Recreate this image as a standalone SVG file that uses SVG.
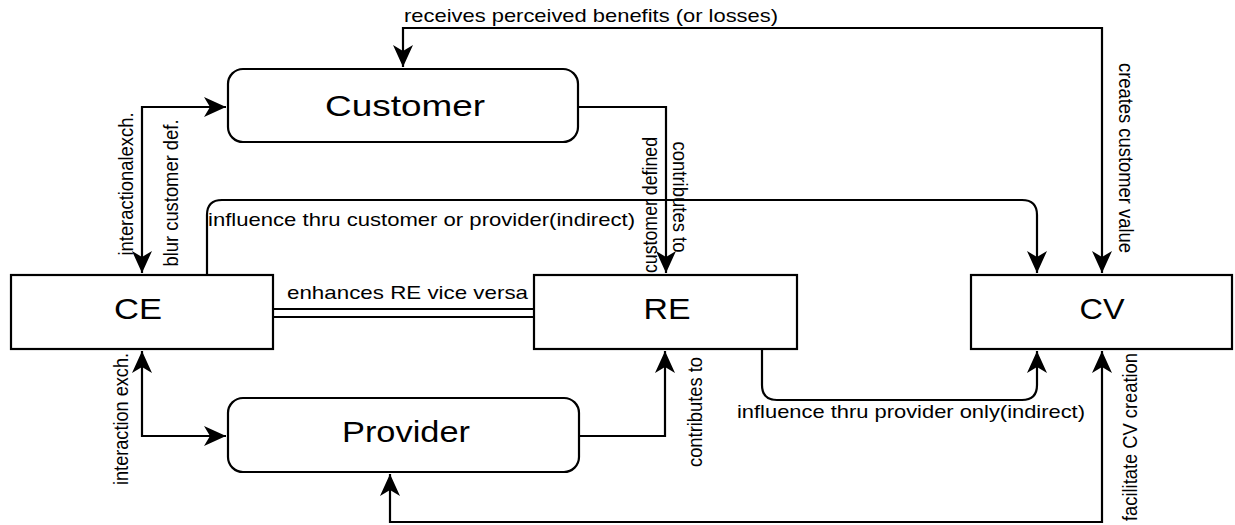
<svg xmlns="http://www.w3.org/2000/svg" width="1235" height="525" viewBox="0 0 1235 525">
<style>
.box{fill:#fff;stroke:#000;stroke-width:2.2}
.lbl{font-family:"Liberation Sans",Arial,sans-serif;font-size:29px;fill:#000;text-anchor:middle}
.t{font-family:"Liberation Sans",Arial,sans-serif;font-size:19px;fill:#000}
.tv{font-family:"Liberation Sans",Arial,sans-serif;font-size:20px;fill:#000;text-anchor:middle}
.c{fill:none;stroke:#000;stroke-width:2.2}
.d{fill:none;stroke:#000;stroke-width:1.8}
</style>
<defs>
<marker id="ah" markerUnits="userSpaceOnUse" markerWidth="24" markerHeight="20" refX="22" refY="10" orient="auto-start-reverse" viewBox="0 0 24 20">
<path d="M0,0 L22,10 L0,20 L6,10 Z" fill="#000"/>
</marker>
</defs>
<rect width="1235" height="525" fill="#fff"/>
<g id="connectors">
<path class="c" d="M142,273 V107 H226" marker-start="url(#ah)" marker-end="url(#ah)"/>
<path class="c" d="M142,351 V436 H226" marker-start="url(#ah)" marker-end="url(#ah)"/>
<path class="c" d="M579,107 H666 V273" marker-end="url(#ah)"/>
<path class="c" d="M579,436 H665 V351" marker-end="url(#ah)"/>
<path class="c" d="M207,275 V215 Q207,200 222,200 H1022 Q1037,200 1037,215 V273" marker-end="url(#ah)"/>
<path class="c" d="M403,67 V28 H1102 V273" marker-start="url(#ah)" marker-end="url(#ah)"/>
<path class="c" d="M762,349 V385 Q762,400 777,400 H1022 Q1037,400 1037,385 V351" marker-end="url(#ah)"/>
<path class="c" d="M390,474 V522 H1102 V351" marker-start="url(#ah)" marker-end="url(#ah)"/>
<line class="d" x1="273" y1="309" x2="534" y2="309"/>
<line class="d" x1="273" y1="317" x2="534" y2="317"/>
<text class="t" x="404" y="22" textLength="374" lengthAdjust="spacingAndGlyphs">receives perceived benefits (or losses)</text>
<text class="t" x="208" y="226" textLength="427" lengthAdjust="spacingAndGlyphs">influence thru customer or provider(indirect)</text>
<text class="t" x="287" y="299" textLength="241" lengthAdjust="spacingAndGlyphs">enhances RE vice versa</text>
<text class="t" x="737" y="418" textLength="348" lengthAdjust="spacingAndGlyphs">influence thru provider only(indirect)</text>
<text class="tv" transform="translate(133,184) rotate(-90)" textLength="143" lengthAdjust="spacingAndGlyphs">interactionalexch.</text>
<text class="tv" transform="translate(178,193) rotate(-90)" textLength="147" lengthAdjust="spacingAndGlyphs">blur customer def.</text>
<text class="tv" transform="translate(128,419) rotate(-90)" textLength="132" lengthAdjust="spacingAndGlyphs">interaction exch.</text>
<text class="tv" transform="translate(657,205) rotate(-90)" textLength="136" lengthAdjust="spacingAndGlyphs">customer defined</text>
<text class="tv" transform="translate(673,197) rotate(90)" textLength="111" lengthAdjust="spacingAndGlyphs">contributes to</text>
<text class="tv" transform="translate(702,412) rotate(-90)" textLength="110" lengthAdjust="spacingAndGlyphs">contributes to</text>
<text class="tv" transform="translate(1119,158) rotate(90)" textLength="190" lengthAdjust="spacingAndGlyphs">creates customer value</text>
<text class="tv" transform="translate(1137,437) rotate(-90)" textLength="168" lengthAdjust="spacingAndGlyphs">facilitate CV creation</text>
</g>
<g id="customer">
<rect class="box" x="228" y="69" width="350" height="73" rx="15" ry="15"/>
<text class="lbl" x="405" y="116" textLength="160" lengthAdjust="spacingAndGlyphs">Customer</text>
</g>
<g id="provider">
<rect class="box" x="228" y="398" width="351" height="74" rx="15" ry="15"/>
<text class="lbl" x="406" y="442" textLength="128" lengthAdjust="spacingAndGlyphs">Provider</text>
</g>
<g id="ce">
<rect class="box" x="11" y="275" width="262" height="74"/>
<text class="lbl" x="138" y="319" textLength="48" lengthAdjust="spacingAndGlyphs">CE</text>
</g>
<g id="re">
<rect class="box" x="534" y="275" width="263" height="74"/>
<text class="lbl" x="667" y="319" textLength="47" lengthAdjust="spacingAndGlyphs">RE</text>
</g>
<g id="cv">
<rect class="box" x="971" y="275" width="261" height="74"/>
<text class="lbl" x="1102" y="319" textLength="45" lengthAdjust="spacingAndGlyphs">CV</text>
</g>
</svg>
